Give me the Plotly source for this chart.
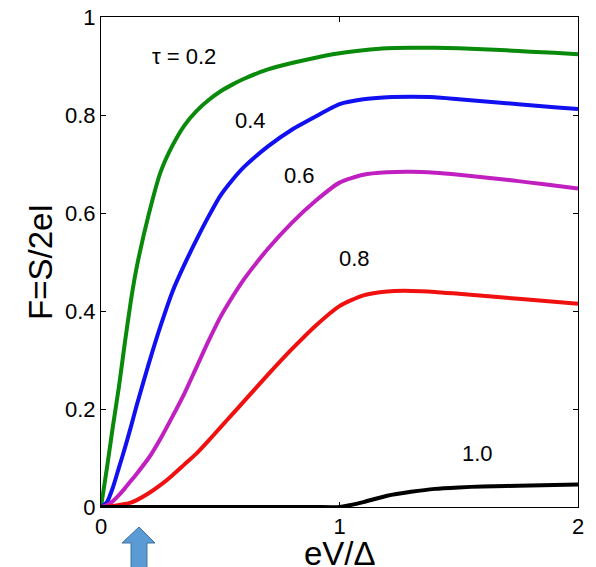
import plotly.graph_objects as go

# ---- data ----
x_vals = [0, 0.025, 0.05, 0.075, 0.1, 0.125, 0.15, 0.2, 0.25, 0.3, 0.35, 0.4, 0.45,
          0.5, 0.55, 0.6, 0.7, 0.8, 0.9, 1.0, 1.1, 1.2, 1.3, 1.4, 1.5, 1.6, 1.7,
          1.8, 1.9, 2.0]

f_tau02 = [0, 0.08, 0.165, 0.245, 0.335, 0.42, 0.49, 0.597, 0.684, 0.738, 0.779, 0.808, 0.83,
           0.848, 0.862, 0.874, 0.893, 0.906, 0.917, 0.926, 0.932, 0.936, 0.937, 0.937,
           0.936, 0.934, 0.932, 0.929, 0.927, 0.924]
f_tau04 = [0, 0.01, 0.04, 0.08, 0.12, 0.163, 0.208, 0.292, 0.37, 0.44, 0.495, 0.545, 0.592,
           0.635, 0.667, 0.694, 0.736, 0.77, 0.797, 0.822, 0.832, 0.836, 0.837, 0.836,
           0.832, 0.828, 0.824, 0.82, 0.816, 0.812]
f_tau06 = [0, 0.004, 0.012, 0.024, 0.038, 0.053, 0.068, 0.1, 0.14, 0.185, 0.232, 0.285, 0.338,
           0.387, 0.428, 0.465, 0.527, 0.58, 0.625, 0.662, 0.678, 0.683, 0.684, 0.682,
           0.678, 0.673, 0.668, 0.662, 0.656, 0.65]
f_tau08 = [0, 0.0005, 0.002, 0.004, 0.006, 0.009, 0.014, 0.028, 0.045, 0.065, 0.087, 0.109, 0.135,
           0.162, 0.189, 0.216, 0.27, 0.322, 0.37, 0.41, 0.432, 0.44, 0.441, 0.439,
           0.435, 0.431, 0.427, 0.423, 0.419, 0.415]
f_tau10 = [0, 0, 0, 0, 0, 0, 0, 0, 0, 0, 0, 0, 0,
           0, 0, 0, 0, 0, 0, 0, 0.01, 0.023, 0.031, 0.037,
           0.04, 0.042, 0.043, 0.044, 0.045, 0.046]

series_names = ["τ = 0.2", "0.4", "0.6", "0.8", "1.0"]
series_colors = ["#0a8a0a", "#1010f0", "#c020c0", "#f01010", "#000000"]
label_x = [0.346, 0.625, 0.834, 1.063, 1.58]
label_y = [0.92, 0.788, 0.676, 0.508, 0.11]

x_tickvals = [0, 1, 2]
x_ticktext = ["0", "1", "2"]
y_tickvals = [0, 0.2, 0.4, 0.6, 0.8, 1.0]
y_ticktext = ["0", "0.2", "0.4", "0.6", "0.8", "1"]

FONT = "Liberation Sans, Arial, sans-serif"

fig = go.Figure()
for ys, name, col in zip([f_tau02, f_tau04, f_tau06, f_tau08, f_tau10], series_names, series_colors):
    fig.add_trace(go.Scatter(x=x_vals, y=ys, mode="lines", name=name,
                             line=dict(color=col, width=4, shape="spline", smoothing=0.6),
                             cliponaxis=False, showlegend=False))

for name, lx, ly in zip(series_names, label_x, label_y):
    fig.add_annotation(x=lx, y=ly, text=name, showarrow=False,
                       font=dict(family=FONT, size=22, color="black"))

axis_common = dict(showline=True, linecolor="black", linewidth=1, mirror="ticks",
                   ticks="inside", ticklen=5, tickcolor="black", showgrid=False,
                   zeroline=False, automargin=False, ticklabeloverflow="allow",
                   tickfont=dict(family=FONT, size=22, color="black"))

fig.update_xaxes(range=[0, 2], tickvals=x_tickvals, ticktext=x_ticktext, **axis_common)
fig.update_yaxes(range=[0, 1], tickvals=y_tickvals, ticktext=y_ticktext, **axis_common)

# axis titles
fig.add_annotation(xref="paper", yref="paper", x=-0.128, y=0.5, xanchor="center",
                   yanchor="middle", text="F=S/2eI", textangle=-90, showarrow=False,
                   font=dict(family=FONT, size=33, color="black"))
fig.add_annotation(xref="paper", yref="paper", x=0.5, y=-0.094, xanchor="center",
                   yanchor="middle", text="eV/Δ", showarrow=False,
                   font=dict(family=FONT, size=33, color="black"))

# blue arrow below the axis
fig.add_shape(type="path", xref="paper", yref="paper",
              path="M 0.0797,-0.0408 L 0.1132,-0.0735 L 0.0964,-0.0735 L 0.0964,-0.15 "
                   "L 0.0629,-0.15 L 0.0629,-0.0735 L 0.0440,-0.0735 Z",
              fillcolor="#5B9BD5", line=dict(color="#41719C", width=1))

fig.update_layout(width=596, height=567, margin=dict(l=93, r=26, t=9, b=68),
                  plot_bgcolor="white", paper_bgcolor="white")

fig.write_html("out.html")
